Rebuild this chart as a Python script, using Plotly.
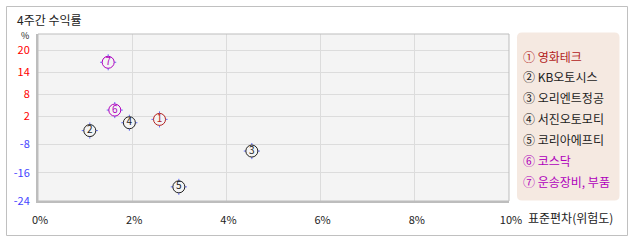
import numpy as np
import plotly.graph_objects as go

# ---- data ----
names = ['영화테크', 'KB오토시스', '오리엔트정공', '서진오토모티', '코리아에프티', '코스닥', '운송장비, 부품']
badges = ['①', '②', '③', '④', '⑤', '⑥', '⑦']
digits = ['1', '2', '3', '4', '5', '6', '7']
std_dev = [2.58, 1.10, 4.54, 1.94, 2.99, 1.63, 1.49]      # 표준편차 (%)
ret_4w = [0.9, -3.1, -9.9, -0.3, -20.0, 3.7, 16.7]       # 4주간 수익률 (%)
ytick_vals = [-24, -16, -8, 2, 8, 14, 20]
xtick_vals = [0, 2, 4, 6, 8, 10]

# ---- styles / layout constants ----
RED = '#b22222'
PURPLE = '#b000bc'
DARK = '#222222'
item_colors = [RED, DARK, DARK, DARK, DARK, PURPLE, PURPLE]
FONT = 'Noto Sans CJK KR'
W, H = 638, 242
L, R, T, B = 38, 129, 34, 41
PW, PH = W - L - R, H - T - B
# vertical display positions of y ticks (axis is non-uniform in the original)
ytick_pos = [0, 28.3, 56.7, 84.7, 106.7, 128.7, 151]
Y_TOP = PH


def px(x):
    return (x - L) / PW


def py(y):
    return (H - B - y) / PH


y_disp = np.interp(ret_4w, ytick_vals, ytick_pos)

fig = go.Figure()
# tick marks around markers
fig.add_trace(go.Scatter(
    x=std_dev, y=y_disp, mode='markers', hoverinfo='skip', showlegend=False,
    marker=dict(symbol='cross-thin-open', size=11.5, line=dict(color=item_colors, width=1))))
# circles
fig.add_trace(go.Scatter(
    x=std_dev, y=y_disp, mode='markers+text', showlegend=False,
    text=digits, textposition='middle center',
    textfont=dict(family=FONT, size=10, color=item_colors),
    marker=dict(symbol='circle', size=12, color='#f4f4f4', line=dict(color=item_colors, width=1)),
    customdata=names, hovertemplate='%{customdata}<extra></extra>'))

shapes = []
# outer frame
shapes.append(dict(type='rect', xref='paper', yref='paper', x0=px(6.5), x1=px(627.5), y0=py(235.5), y1=py(6.5),
                   line=dict(color='#c0c0c0', width=1), layer='below'))
# plot frame
shapes.append(dict(type='rect', xref='paper', yref='paper', x0=0, x1=1, y0=0, y1=1,
                   line=dict(color='#bdbdbd', width=1), layer='above'))


# legend rounded box
def rounded(x0, y0, x1, y1, r):
    X = lambda v: px(v)
    Y = lambda v: py(v)
    return (f"M {X(x0 + r)} {Y(y0)} L {X(x1 - r)} {Y(y0)} Q {X(x1)} {Y(y0)} {X(x1)} {Y(y0 + r)} "
            f"L {X(x1)} {Y(y1 - r)} Q {X(x1)} {Y(y1)} {X(x1 - r)} {Y(y1)} "
            f"L {X(x0 + r)} {Y(y1)} Q {X(x0)} {Y(y1)} {X(x0)} {Y(y1 - r)} "
            f"L {X(x0)} {Y(y0 + r)} Q {X(x0)} {Y(y0)} {X(x0 + r)} {Y(y0)} Z")


shapes.append(dict(type='path', xref='paper', yref='paper', path=rounded(517, 32.5, 619.5, 200.5, 5),
                   fillcolor='#f5e9e1', line=dict(width=0), layer='below'))

annotations = []
annotations.append(dict(text='4주간 수익률', x=px(16), y=py(19), xref='paper', yref='paper',
                        xanchor='left', yanchor='middle', showarrow=False, borderpad=0,
                        font=dict(family=FONT, size=12, color='#222')))
annotations.append(dict(text='%', x=px(25), y=py(35.5), xref='paper', yref='paper',
                        xanchor='center', yanchor='middle', showarrow=False, borderpad=0,
                        font=dict(family=FONT, size=9, color='#222')))
annotations.append(dict(text='표준편차(위험도)', x=px(526), y=py(217), xref='paper', yref='paper',
                        xanchor='left', yanchor='middle', showarrow=False,
                        font=dict(family=FONT, size=12, color='#222')))
for i, (b, n, c) in enumerate(zip(badges, names, item_colors)):
    annotations.append(dict(text=f'{b} {n}', x=px(521), y=py(56 + i * 20.95), xref='paper', yref='paper',
                            xanchor='left', yanchor='middle', showarrow=False,
                            font=dict(family=FONT, size=12, color=c)))

ytext = [f'<span style="color:{"#ff0000" if v > 0 else "#4444ff"}">{v}</span>' for v in ytick_vals]
xtext = [f'{v}%' for v in xtick_vals]

fig.update_layout(
    width=W, height=H, margin=dict(l=L, r=R, t=T, b=B, pad=0),
    paper_bgcolor='white', plot_bgcolor='#f4f4f4',
    font=dict(family=FONT, size=11, color='#222'),
    shapes=shapes, annotations=annotations, showlegend=False,
    xaxis=dict(range=[0, 10], tickvals=xtick_vals, ticktext=xtext, showgrid=True, gridcolor='#dcdcdc',
               gridwidth=1, zeroline=False, showline=True, linecolor='#bdbdbd', linewidth=2,
               ticks='', ticklabelstandoff=8, ticklabelshift=2, tickfont=dict(size=11, color='#222'),
               fixedrange=True),
    yaxis=dict(range=[0, Y_TOP], tickvals=ytick_pos, ticktext=ytext, showgrid=True, gridcolor='#dcdcdc',
               gridwidth=1, zeroline=False, showline=True, linecolor='#bdbdbd', linewidth=2,
               ticks='', ticklabelstandoff=4, tickfont=dict(size=11), fixedrange=True),
)

fig.write_html('out.html')
